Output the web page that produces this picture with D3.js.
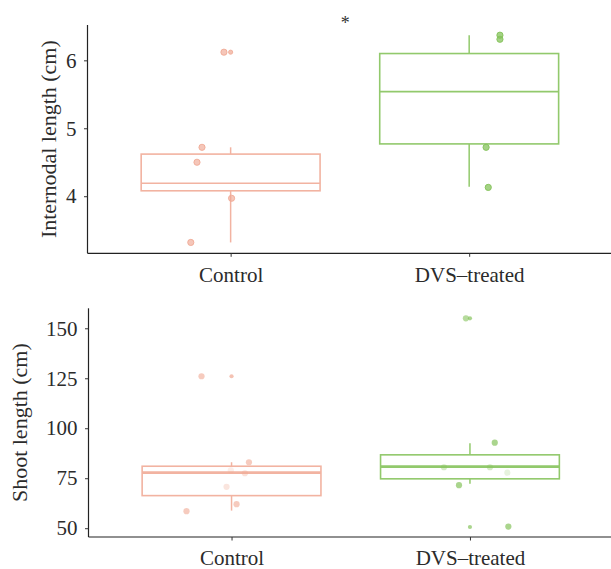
<!DOCTYPE html>
<html><head><meta charset="utf-8">
<script src="https://cdn.jsdelivr.net/npm/d3@7"></script>
<style>
html,body{margin:0;padding:0;background:#fff;}
svg{display:block;}
</style></head><body>
<svg id="chart" width="611" height="569"></svg>
<script>
// ---------------- DATA ----------------
const categories = ["Control", "DVS\u2013treated"];

// Panel 1: Internodal length (cm)
const internodalControl = [6.12, 4.72, 4.50, 3.97, 3.32];
const internodalDVS = [6.37, 6.31, 4.72, 4.13];
const internodalOutliers = [[6.12], []];
const internodalLowerWhisker = [3.32, 4.14];
const internodalQ1 = [4.08, 4.77];
const internodalMedian = [4.19, 5.54];
const internodalQ3 = [4.62, 6.10];
const internodalUpperWhisker = [4.72, 6.37];
const internodalTicks = [4, 5, 6];

// Panel 2: Shoot length (cm)
const shootControl = [126, 83, 79, 77.5, 70.7, 62, 58.5];
const shootDVS = [155, 92.8, 80.5, 80.5, 77.8, 71.5, 50.8];
const shootOutliers = [[126], [155, 50.6]];
const shootLowerWhisker = [58.8, 72.2];
const shootQ1 = [66.3, 74.7];
const shootMedian = [77.8, 80.8];
const shootQ3 = [81.0, 86.7];
const shootUpperWhisker = [83.0, 92.5];
const shootTicks = [50, 75, 100, 125, 150];

const significanceLabel = "*";

// ---------------- LAYOUT / STYLE ----------------
const W = 611, H = 569;
const colors = ["#f2b3a1", "#92c96c"];
const pointColors = ["#f0a893", "#86c35c"];
const FONT = "'Liberation Serif', 'Times New Roman', serif";

// jitter offsets (fraction of category step) & point opacity, reproduced from picture
const panels = [
  {
    title: "Internodal length (cm)",
    top: 25, bottom: 253.3, left: 87.5, right: 612.3,
    domain: [3.16, 6.52], ticks: internodalTicks,
    values: [internodalControl, internodalDVS],
    outliers: internodalOutliers,
    lw: internodalLowerWhisker, q1: internodalQ1, med: internodalMedian, q3: internodalQ3, uw: internodalUpperWhisker,
    jitter: [[-0.028, -0.12, -0.141, 0.004, -0.167], [0.129, 0.129, 0.071, 0.080]],
    opacity: [[0.65, 0.65, 0.65, 0.65, 0.65], [0.75, 0.75, 0.75, 0.75]],
    pointStroke: true, medianWidth: 1.6,
    titleX: 56,
  },
  {
    title: "Shoot length (cm)",
    top: 308.3, bottom: 537, left: 88.5, right: 613,
    domain: [45.6, 160], ticks: shootTicks,
    values: [shootControl, shootDVS],
    outliers: shootOutliers,
    lw: shootLowerWhisker, q1: shootQ1, med: shootMedian, q3: shootQ3, uw: shootUpperWhisker,
    jitter: [[-0.126, 0.073, -0.003, 0.056, -0.021, 0.021, -0.189], [-0.017, 0.104, -0.109, 0.084, 0.157, -0.046, 0.161]],
    opacity: [[0.6, 0.6, 0.2, 0.35, 0.3, 0.6, 0.6], [0.6, 0.7, 0.35, 0.35, 0.2, 0.7, 0.7]],
    pointStroke: false, medianWidth: 2.6,
    titleX: 27,
  }
];

const svg = d3.select("#chart");
svg.append("rect").attr("width", W).attr("height", H).attr("fill", "#fff");

panels.forEach((p, pi) => {
  const x = d3.scalePoint().domain(categories).range([p.left, p.right]).padding(0.6);
  const step = x.step();
  const y = d3.scaleLinear().domain(p.domain).range([p.bottom, p.top]);
  const g = svg.append("g");
  const boxW = step * 0.75;

  categories.forEach((c, i) => {
    const cx = x(c);
    const col = colors[i];
    g.append("line").attr("x1", cx).attr("x2", cx).attr("y1", y(p.q3[i])).attr("y2", y(p.uw[i]))
      .attr("stroke", col).attr("stroke-width", 1.5);
    g.append("line").attr("x1", cx).attr("x2", cx).attr("y1", y(p.q1[i])).attr("y2", y(p.lw[i]))
      .attr("stroke", col).attr("stroke-width", 1.5);
    g.append("rect").attr("x", cx - boxW / 2).attr("width", boxW)
      .attr("y", y(p.q3[i])).attr("height", y(p.q1[i]) - y(p.q3[i]))
      .attr("fill", "none").attr("stroke", col).attr("stroke-width", 1.6);
    g.append("line").attr("x1", cx - boxW / 2).attr("x2", cx + boxW / 2)
      .attr("y1", y(p.med[i])).attr("y2", y(p.med[i]))
      .attr("stroke", col).attr("stroke-width", p.medianWidth);
    p.outliers[i].forEach(v => {
      g.append("circle").attr("cx", cx).attr("cy", y(v)).attr("r", 2.1)
        .attr("fill", pointColors[i]).attr("fill-opacity", 0.7)
        .attr("stroke", p.pointStroke ? pointColors[i] : "none").attr("stroke-width", 0.8);
    });
    p.values[i].forEach((v, k) => {
      g.append("circle").attr("cx", cx + p.jitter[i][k] * step).attr("cy", y(v)).attr("r", 3.1)
        .attr("fill", pointColors[i]).attr("fill-opacity", p.opacity[i][k])
        .attr("stroke", p.pointStroke ? pointColors[i] : "none").attr("stroke-width", 1)
        .attr("stroke-opacity", p.opacity[i][k] + 0.2);
    });
  });

  const yAxis = d3.axisLeft(y).tickValues(p.ticks).tickFormat(d3.format("d"))
    .tickSize(3.5).tickSizeOuter(0).tickPadding(7.5);
  const ya = svg.append("g").attr("transform", `translate(${p.left},0)`).call(yAxis);
  ya.select(".domain").attr("d", `M0,${p.top}V${p.bottom}`);
  const xAxis = d3.axisBottom(x).tickSize(3.5).tickSizeOuter(0).tickPadding(10);
  const xa = svg.append("g").attr("transform", `translate(0,${p.bottom})`).call(xAxis);
  xa.select(".domain").attr("d", `M${p.left},0H${W}`);
  [ya, xa].forEach(a => {
    a.selectAll(".domain").attr("stroke", "#222").attr("stroke-width", 1.2);
    a.selectAll(".tick line").attr("stroke", "#333").attr("stroke-width", 1);
    a.selectAll(".tick text").attr("fill", "#2b2b2b").style("font-family", FONT).style("font-size", "21px");
  });

  svg.append("text")
    .attr("transform", `translate(${p.titleX},${(p.top + p.bottom) / 2}) rotate(-90)`)
    .attr("text-anchor", "middle")
    .attr("fill", "#2b2b2b")
    .style("font-family", FONT).style("font-size", "22px")
    .text(p.title);

  if (pi === 0) {
    svg.append("text")
      .attr("x", x(categories[0]) + step * 0.48)
      .attr("y", 28.5)
      .attr("text-anchor", "middle")
      .attr("fill", "#333")
      .style("font-family", FONT).style("font-size", "18px")
      .text(significanceLabel);
  }
});
</script>
</body></html>
